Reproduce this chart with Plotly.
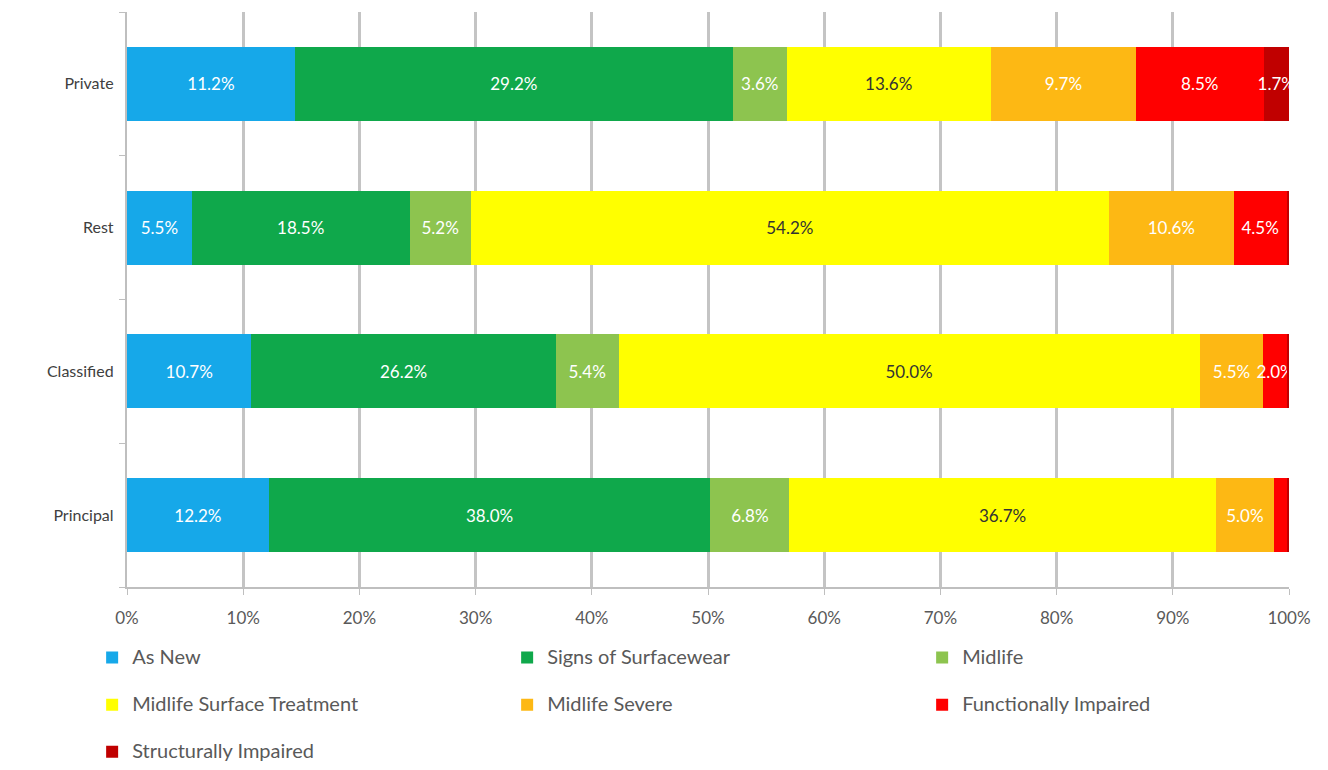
import plotly.graph_objects as go

categories = ["Principal", "Classified", "Rest", "Private"]
series_names = ["As New", "Signs of Surfacewear", "Midlife", "Midlife Surface Treatment",
                "Midlife Severe", "Functionally Impaired", "Structurally Impaired"]
as_new = [12.2, 10.7, 5.5, 11.2]
signs_surfacewear = [38.0, 26.2, 18.5, 29.2]
midlife = [6.8, 5.4, 5.2, 3.6]
midlife_surface_treatment = [36.7, 50.0, 54.2, 13.6]
midlife_severe = [5.0, 5.5, 10.6, 9.7]
functionally_impaired = [1.1, 2.0, 4.5, 8.5]
structurally_impaired = [0.2, 0.2, 0.2, 1.7]
x_ticks = [0, 10, 20, 30, 40, 50, 60, 70, 80, 90, 100]

series_values = [as_new, signs_surfacewear, midlife, midlife_surface_treatment,
                 midlife_severe, functionally_impaired, structurally_impaired]
colors = ["#16a8e9", "#0fa84b", "#8dc44f", "#ffff00", "#fdb814", "#ff0000", "#c00000"]
text_colors = ["white", "white", "white", "#333333", "white", "white", "white"]

FONT = "Lato"
fig = go.Figure()
for name, vals, col, tcol in zip(series_names, series_values, colors, text_colors):
    fig.add_trace(go.Bar(
        y=categories, x=vals, name=f'<span style="font-size:20px">{name}</span><br> ',
        orientation="h", marker=dict(color=col, line=dict(width=0)),
        text=[f"{v:.1f}%" if v >= 1.5 else "" for v in vals],
        textposition="inside", insidetextanchor="middle", constraintext="none",
        textangle=0,
        textfont=dict(color=tcol, size=17, family=FONT),
    ))

fig.update_layout(
    barmode="stack", barnorm="percent", bargap=0.485,
    width=1328, height=770,
    margin=dict(l=127, r=39, t=12, b=183, autoexpand=False),
    plot_bgcolor="white", paper_bgcolor="white",
    font=dict(family=FONT, color="#595959"),
    showlegend=True,
    legend=dict(orientation="h", x=-0.03, xanchor="left", y=-0.092, yanchor="top",
                entrywidth=370, entrywidthmode="pixels", valign="top",
                font=dict(size=17, color="#595959", family=FONT),
                traceorder="normal"),
)
fig.update_xaxes(range=[0, 100], tickvals=x_ticks, ticktext=[f"{t}%" for t in x_ticks],
                 showgrid=True, gridcolor="#c4c4c4", gridwidth=3,
                 showline=True, linecolor="#bfbfbf", linewidth=2,
                 ticks="outside", ticklen=6, tickcolor="#bfbfbf", ticklabelstandoff=9,
                 tickfont=dict(size=17, color="#595959", family=FONT), zeroline=False)
fig.update_yaxes(categoryorder="array", categoryarray=categories,
                 showline=True, linecolor="#bfbfbf", linewidth=2,
                 ticks="outside", ticklen=6, tickcolor="#bfbfbf", tickson="boundaries",
                 tickfont=dict(size=16, color="#404040", family=FONT), ticksuffix="  ")

fig.write_html("out.html")
